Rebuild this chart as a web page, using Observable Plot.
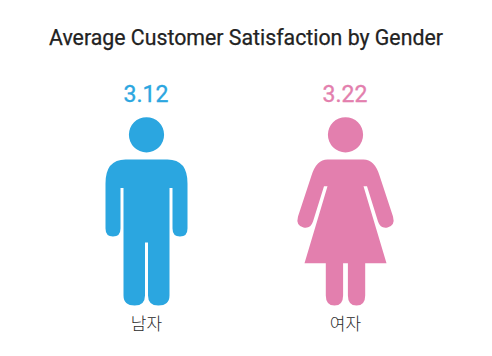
<!DOCTYPE html>
<html><head><meta charset="utf-8">
<script src="https://cdn.jsdelivr.net/npm/d3@7"></script>
<script src="https://cdn.jsdelivr.net/npm/@observablehq/plot@0.6"></script>
<style>
html,body{margin:0;padding:0;background:#fff;}
h2{margin:0;height:60px;box-sizing:border-box;padding-top:22px;text-align:center;font:400 21.3px/32px Roboto,"Noto Sans",sans-serif;-webkit-text-stroke:0.25px #222;color:#222;white-space:nowrap;}
svg{display:block;}
</style></head><body>
<h2>Average Customer Satisfaction by Gender</h2>
<div id="chart"></div>
<script>
const genders = ["남자", "여자"];
const satisfaction = [3.12, 3.22];
const colors = ["#2ba6e0", "#e37fae"];

// Pictogram glyphs, drawn as custom dot symbols. One unit = the dot's radius / 73.
const R = 73;
function head(c, s) {
  c.moveTo(17.6 * s, -76.7 * s);
  c.arc(0, -76.7 * s, 17.6 * s, 0, 2 * Math.PI);
  c.closePath();
}
const manSymbol = {
  draw(c, size) {
    const s = Math.sqrt(size / Math.PI) / R;
    const P = (x, y) => [x * s, y * s];
    const M = (x, y) => c.moveTo(...P(x, y));
    const L = (x, y) => c.lineTo(...P(x, y));
    const Q = (a, b, x, y) => c.quadraticCurveTo(...P(a, b), ...P(x, y));
    head(c, s);
    M(-21, -52);
    L(21, -52);
    Q(41, -52, 41, -28);
    L(41, 17);
    Q(41, 25, 33.5, 25);
    Q(26, 25, 26, 17);
    L(26, -23.5);
    L(23, -23.5);
    L(23, 84);
    Q(23, 94, 11.8, 94);
    Q(1.5, 94, 1.5, 84);
    L(1.5, 31);
    L(-1.5, 31);
    L(-1.5, 84);
    Q(-1.5, 94, -11.8, 94);
    Q(-23, 94, -23, 84);
    L(-23, -23.5);
    L(-26, -23.5);
    L(-26, 17);
    Q(-26, 25, -33.5, 25);
    Q(-41, 25, -41, 17);
    L(-41, -28);
    Q(-41, -52, -21, -52);
    c.closePath();
  }
};
const womanSymbol = {
  draw(c, size) {
    const s = Math.sqrt(size / Math.PI) / R;
    const P = (x, y) => [x * s, y * s];
    const M = (x, y) => c.moveTo(...P(x, y));
    const L = (x, y) => c.lineTo(...P(x, y));
    const Q = (a, b, x, y) => c.quadraticCurveTo(...P(a, b), ...P(x, y));
    head(c, s);
    M(-18, -52);
    L(18, -52);
    Q(29, -52, 34, -36);
    L(47.5, 5);
    Q(50, 14, 42, 16);
    Q(35, 17.5, 32.5, 10);
    L(21.5, -25.3);
    L(18, -25.3);
    L(41, 51.7);
    L(19.7, 51.7);
    L(19.7, 84);
    Q(19.7, 94, 11, 94);
    Q(2.4, 94, 2.4, 84);
    L(2.4, 51.7);
    L(-2.4, 51.7);
    L(-2.4, 84);
    Q(-2.4, 94, -11, 94);
    Q(-19.7, 94, -19.7, 84);
    L(-19.7, 51.7);
    L(-41, 51.7);
    L(-18, -25.3);
    L(-21.5, -25.3);
    L(-32.5, 10);
    Q(-35, 17.5, -42, 16);
    Q(-50, 14, -47.5, 5);
    L(-34, -36);
    Q(-29, -52, -18, -52);
    c.closePath();
  }
};
const symbols = [manSymbol, womanSymbol];
const rows = genders.map((g, i) => ({gender: g, value: satisfaction[i], glyph: symbols[i]}));

const chart = Plot.plot({
  width: 492,
  height: 296,
  marginTop: 52,
  marginBottom: 46,
  marginLeft: 0,
  marginRight: 0,
  style: {background: "#fff", fontFamily: "'Noto Sans CJK KR', sans-serif"},
  x: {type: "point", domain: genders, range: [146, 345], padding: 0},
  color: {domain: genders, range: colors},
  marks: [
    rows.map(d => Plot.dot([d], {
      x: "gender",
      r: R,
      symbol: () => d.glyph,
      fill: "gender"
    })),
    Plot.text(rows, {
      x: "gender",
      frameAnchor: "top",
      dx: -0.5,
      dy: -18,
      lineAnchor: "middle",
      text: d => d.value.toFixed(2),
      fill: "gender",
      stroke: "gender",
      strokeWidth: 0.35,
      fontSize: 23,
      fontFamily: "Roboto"
    }),
    Plot.axisX({
      label: null,
      tickSize: 0,
      tickPadding: 7,
      fontSize: 17,
      fontWeight: 300,
      color: "#2a2a2a"
    })
  ]
});
document.getElementById("chart").append(chart);
</script>
</body></html>
